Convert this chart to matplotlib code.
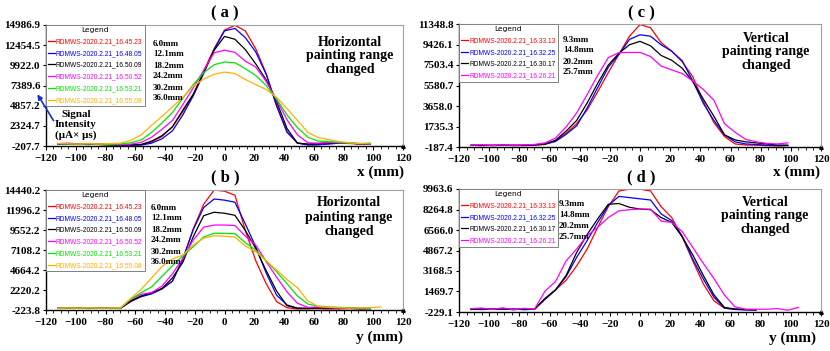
import numpy as np
import matplotlib.pyplot as plt
from matplotlib.ticker import MultipleLocator

nan = np.nan

# ---------------------------------------------------------------------------
# data
# ---------------------------------------------------------------------------
a_x = list(range(-112, 99, 7))
a_red = [60, 40, -20, 30, -30, -60, -90, -80, -60, 300, 1000, 2200, 4100, 6200, 9200, 12000,
         14350, 14950, 14250, 12000, 8900, 4800, 1500, 200, -50, -20, 80, 150, 100, 60, 40]
a_blue = [30, 20, 0, -20, 10, -40, -80, -100, -90, 150, 700, 1700, 3700, 6100, 8900, 11900,
          14250, 14560, 13400, 11600, 8800, 4900, 1600, 150, -80, -60, 40, 150, 160, 60, 0]
a_black = [80, 50, 0, 40, -20, -50, -60, -40, -10, 400, 1100, 2200, 4300, 6300, 9000, 11800,
           13550, 13200, 11900, 10100, 8100, 5400, 2000, 150, 50, 80, 200, 250, 150, 60, 40]
a_magenta = [100, 150, 60, 120, 50, 0, -40, 20, 250, 900, 1900, 3000, 5000, 7100, 9300, 11500,
             11820, 11550, 10450, 9700, 7900, 5600, 3100, 1200, 200, 150, 250, 200, 150, 100, 100]
a_green = [80, 50, 30, 60, 20, 0, 50, 200, 550, 1500, 2700, 4000, 5800, 7500, 9000, 10000,
           10340, 10250, 9500, 8650, 7400, 5700, 3700, 2100, 900, 400, 350, 250, 150, 100, 150]
a_orange = [100, 60, 30, 80, 40, 100, 150, 500, 1185, 2400, 3500, 4700, 5900, 7300, 8200, 8800,
            9070, 8900, 8150, 7500, 6900, 5900, 4500, 3000, 1500, 850, 600, 350, 200, 100, 50]

b_x = list(range(-112, 106, 7))
b_red = [-50, 0, -30, 20, -20, 0, -40, 800, 1450, 1800, 2400, 3300, 6000, 9700, 12700, 14430,
         14300, 13800, 9500, 5800, 3000, 800, 50, -100, -80, -60, -100, -80, -60, -80, -60, nan]
b_blue = [-30, 20, 0, -20, 10, -30, -20, 850, 1400, 1750, 2350, 3300, 6000, 9600, 12300, 13340,
          13200, 12950, 10300, 7500, 4300, 1600, 400, 0, 0, 80, 0, -40, 60, -40, -60, nan]
b_black = [40, 0, 30, -20, 0, 40, 0, 900, 1500, 1900, 2400, 3700, 5600, 8735, 11300, 11720,
           11600, 11350, 9500, 7300, 4600, 2100, 300, 0, -40, 30, 0, -40, -20, -60, -40, nan]
b_magenta = [20, 60, 0, 40, -10, 30, 20, 1100, 1700, 1900, 2700, 4200, 6100, 8330, 9900, 10160,
             10160, 10100, 8800, 7700, 5700, 3800, 2000, 600, 100, 150, 60, 0, 40, 20, -20, nan]
b_green = [0, 40, -20, 30, 0, 20, 0, 1100, 1900, 2600, 3900, 5200, 6400, 7520, 8700, 9150,
           9150, 9100, 8000, 7100, 5800, 4460, 3000, 1500, 500, 250, 150, 100, 50, 0, -20, nan]
b_orange = [-20, 30, 0, 50, 0, 20, 40, 1200, 2300, 3700, 5100, 6000, 6500, 7720, 8550, 8850,
            8800, 8700, 7600, 6900, 5800, 4670, 3500, 2500, 900, 200, 100, 50, 0, 50, 50, 150]

c_x = list(range(-112, 99, 7))
c_red = [-30, -60, -20, -40, 0, -60, -30, 50, 400, 1100, 2000, 3300, 5000, 6800, 8500, 10200,
         11300, 11000, 9600, 8800, 7800, 6400, 4100, 2100, 800, 100, 0, -20, -60, -80, -60]
c_blue = [-40, -20, -60, -30, -50, -40, 0, 80, 330, 1000, 1800, 3480, 5400, 7300, 8500, 9900,
          10340, 10200, 9400, 8800, 7900, 6000, 3900, 2300, 950, 300, 100, 50, -20, -60, -40]
c_black = [-20, -40, -30, -10, -50, -20, 20, 100, 450, 1300, 2300, 3950, 5800, 7500, 8600, 9400,
           9720, 9300, 8400, 7950, 7200, 5950, 4300, 2700, 950, 480, 300, 200, 100, 0, -20]
c_magenta = [-20, 20, -40, 0, -30, 10, 50, 200, 650, 1700, 3000, 4740, 6550, 8200, 8660, 8680,
             8680, 8300, 7400, 7050, 6700, 6000, 5200, 4200, 2000, 1200, 530, 300, 150, 100, 200]

d_x = list(range(-112, 106, 7))
d_red = [0, 40, -20, 30, -30, 20, 0, 800, 1600, 2400, 3590, 5000, 6800, 8500, 9800, 9950,
         9950, 9800, 8500, 7600, 6000, 4000, 2100, 700, 80, 0, -20, -40, nan, nan, nan, nan]
d_blue = [20, -30, 10, -20, 30, -40, 0, 850, 1600, 2700, 4300, 5700, 7200, 8600, 9350, 9250,
          9150, 9050, 7900, 7350, 6050, 4150, 2500, 1000, 100, -20, -60, -60, nan, nan, nan, nan]
d_black = [-20, 30, 0, 20, -30, 10, -20, 900, 1600, 2800, 4700, 6200, 7500, 8700, 8760, 8450,
           8300, 8250, 7600, 7200, 6000, 4500, 2800, 1200, 150, 20, -30, -50, nan, nan, nan, nan]
d_magenta = [50, 100, -20, 120, -40, 80, 0, 1500, 2300, 4000, 5000, 6100, 6800, 7600, 8150, 8250,
             8300, 8300, 7300, 7200, 6430, 5120, 3800, 2540, 1175, 200, 0, 0, 0, 50, -80, 150]

a_yticks = [-207.7, 2324.7, 4857.2, 7389.6, 9922.0, 12454.5, 14986.9]
b_yticks = [-223.8, 2220.2, 4664.2, 7108.2, 9552.2, 11996.2, 14440.2]
c_yticks = [-187.4, 1735.3, 3658.0, 5580.7, 7503.4, 9426.1, 11348.8]
d_yticks = [-229.1, 1469.7, 3168.5, 4867.2, 6566.0, 8264.8, 9963.6]

h_runs = ['RDMWS-2020.2.21_16.45.23', 'RDMWS-2020.2.21_16.48.05', 'RDMWS-2020.2.21_16.50.09',
          'RDMWS-2020.2.21_16.50.52', 'RDMWS-2020.2.21_16.53.21', 'RDMWS-2020.2.21_16.55.08']
v_runs = ['RDMWS-2020.2.21_16.33.13', 'RDMWS-2020.2.21_16.32.25', 'RDMWS-2020.2.21_16.30.17',
          'RDMWS-2020.2.21_16.26.21']
h_ranges = ['6.0mm', '12.1mm', '18.2mm', '24.2mm', '30.2mm', '36.0mm']
v_ranges = ['9.3mm', '14.8mm', '20.2mm', '25.7mm']

colors = ['#ff0000', '#0000ff', '#000000', '#ff00ff', '#00e600', '#ffb000']

# ---------------------------------------------------------------------------
W, H = 830, 351
fig = plt.figure(figsize=(8.3, 3.51), dpi=100)
SERIF = 'Liberation Serif'


def rect(l, t, r, b):
    return [l / W, 1 - b / H, (r - l) / W, (b - t) / H]


def ftext(x, y, s, **kw):
    kw.setdefault('family', SERIF)
    kw.setdefault('weight', 'bold')
    fig.text(x / W, 1 - y / H, s, **kw)


def panel(box, xs, series, runs, yticks):
    ax = fig.add_axes(rect(*box))
    for ys, lab, col in zip(series, runs, colors):
        ax.plot(xs, ys, color=col, lw=0.9, label=lab)
    ax.set_xlim(-120, 120)
    ax.set_ylim(yticks[0], yticks[-1])
    ax.set_yticks(yticks)
    ax.set_yticklabels([f'{v:.1f}' for v in yticks])
    ax.xaxis.set_major_locator(MultipleLocator(20))
    ax.xaxis.set_minor_locator(MultipleLocator(5))
    for s in ['top', 'right']:
        ax.spines[s].set_color('#a0a0a0')
        ax.spines[s].set_linewidth(0.8)
    for s in ['left', 'bottom']:
        ax.spines[s].set_linewidth(1.0)
    ax.tick_params(axis='x', which='major', length=3, width=0.8, pad=3)
    ax.tick_params(axis='x', which='minor', length=1.8, width=0.6)
    ax.tick_params(axis='y', length=2, width=0.8, pad=2)
    for lab in ax.get_xticklabels() + ax.get_yticklabels():
        lab.set_family(SERIF)
        lab.set_weight('bold')
        lab.set_fontsize(8)
    leg = ax.legend(loc='upper left', bbox_to_anchor=(0, 1), borderaxespad=0, fancybox=False,
                    edgecolor='#808080', framealpha=1, fontsize=4.8, title='Legend',
                    title_fontsize=5.4, handlelength=1.0, handletextpad=0.15,
                    labelspacing=0.72, borderpad=0.35, labelcolor='linecolor',
                    prop={'family': 'Liberation Sans', 'size': 4.8})
    leg.get_frame().set_linewidth(0.7)
    ax.plot([1], [0], marker='^', ms=2.5, color='black', transform=ax.transAxes, clip_on=False)
    return ax


panel((46, 25, 403, 146), a_x, [a_red, a_blue, a_black, a_magenta, a_green, a_orange],
      h_runs, a_yticks)
panel((46, 190, 403, 310), b_x, [b_red, b_blue, b_black, b_magenta, b_green, b_orange],
      h_runs, b_yticks)
panel((459, 24, 821, 147), c_x, [c_red, c_blue, c_black, c_magenta], v_runs, c_yticks)
panel((459, 189, 821, 312), d_x, [d_red, d_blue, d_black, d_magenta], v_runs, d_yticks)

# panel letters
for x, y, s in [(225, 13, '( a )'), (225, 177, '( b )'), (641, 13, '( c )'), (641, 177, '( d )')]:
    ftext(x, y, s, fontsize=12, ha='center', va='center')

# axis names
for x, y, s in [(380, 172, 'x (mm)'), (379, 337, 'y (mm)'), (796, 172, 'x (mm)'), (792, 338, 'y (mm)')]:
    ftext(x, y, s, fontsize=11, ha='center', va='center')

# painting range notes
for x, y, s in [(350, 56, 'Horizontal\npainting range\nchanged'),
                (349, 217, 'Horizontal\npainting range\nchanged'),
                (766, 52, 'Vertical\npainting range\nchanged'),
                (765, 216, 'Vertical\npainting range\nchanged')]:
    ftext(x, y, s, fontsize=10, ha='center', va='center', linespacing=1.1)

# mm labels next to legends
for i, s in enumerate(h_ranges):
    ftext(153, 43.5 + i * 11.0, s, fontsize=6.5, va='center')
    ftext(151, 207.5 + i * 11.0, s, fontsize=6.5, va='center')
for i, s in enumerate(v_ranges):
    ftext(563, 39.5 + i * 11.0, s, fontsize=6.5, va='center')
    ftext(559, 203.5 + i * 11.2, s, fontsize=6.5, va='center')

# signal intensity note with arrow
ftext(76, 125, 'Signal\nIntensity\n(\u03bcA\u00d7 \u03bcs)', fontsize=8, ha='center',
      va='center', linespacing=1.1)
fig.add_artist(plt.matplotlib.patches.FancyArrowPatch(
    (55 / W, 1 - 123 / H), (36 / W, 1 - 92 / H), transform=fig.transFigure,
    arrowstyle='-|>', mutation_scale=7, color='#1a2fd0', lw=1.2))

fig.savefig('out.png', dpi=100)
